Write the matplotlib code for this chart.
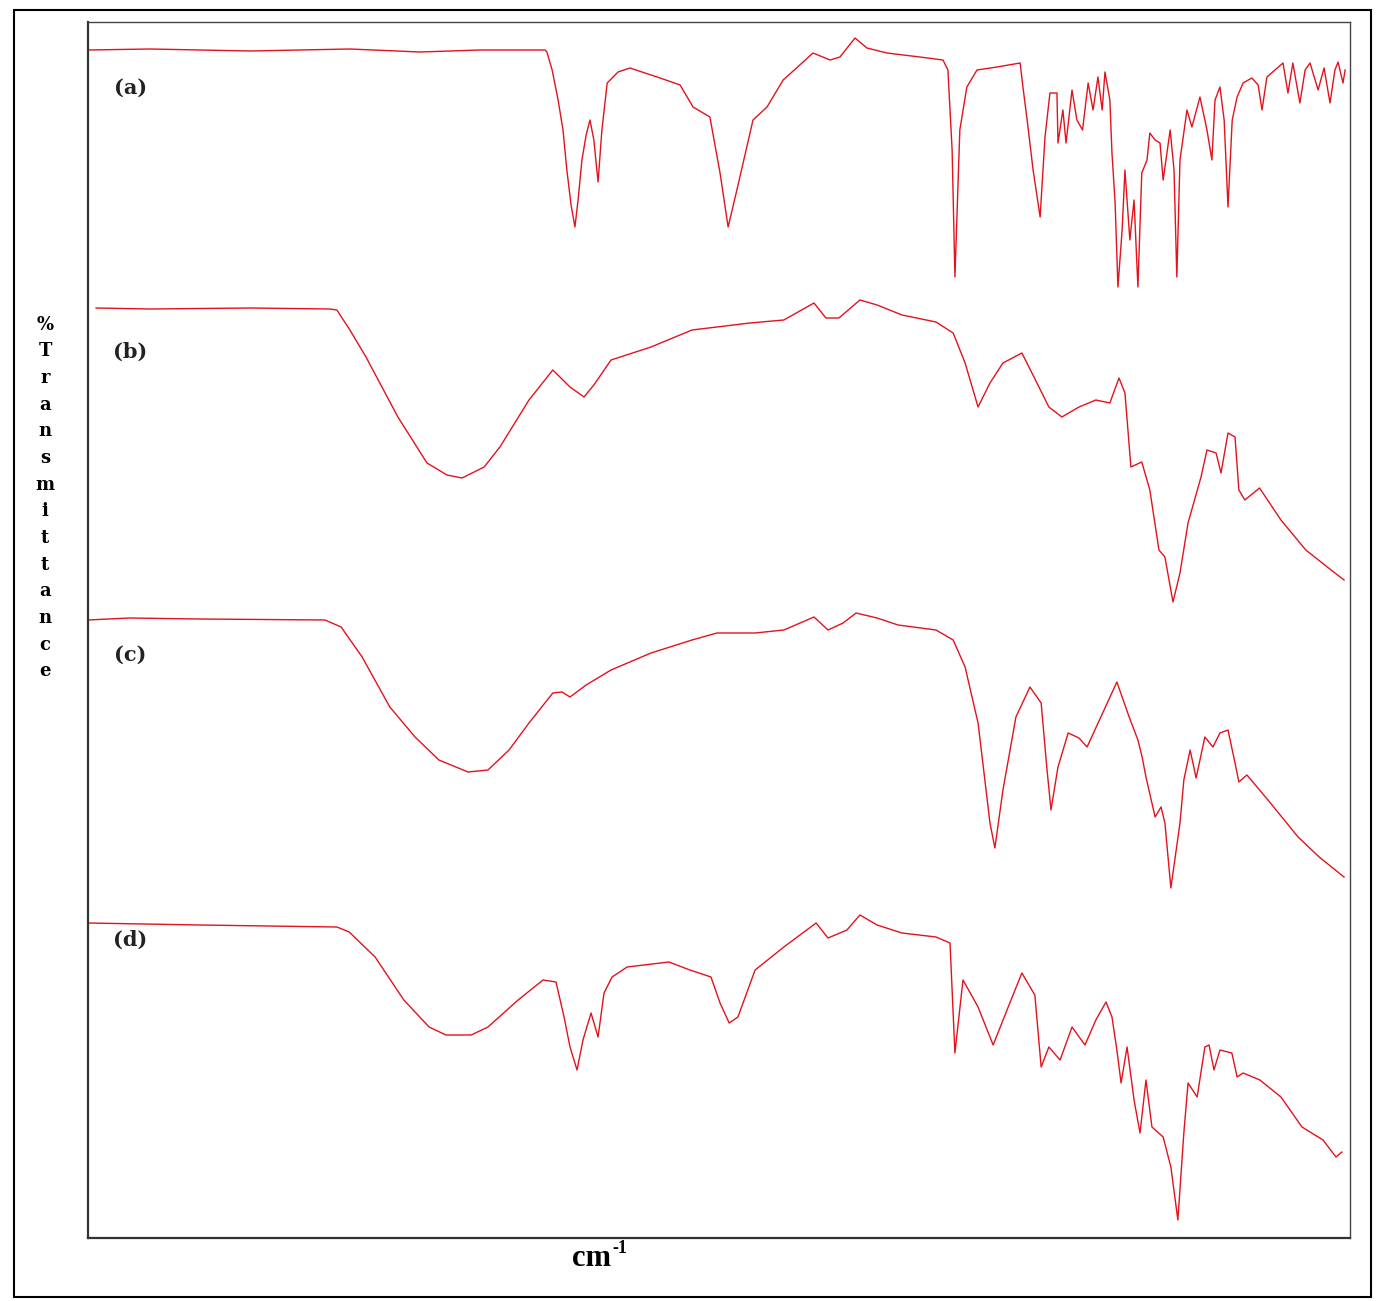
import matplotlib
matplotlib.use("Agg")
import matplotlib.pyplot as plt
from matplotlib.patches import Rectangle

# FTIR spectra, stacked (transmittance in arbitrary units, offsets included)
# wavenumbers in cm-1, plotted high -> low

wn_a = [4000, 3823, 3538, 3253, 3053, 2882, 2696, 2691, 2676, 2659, 2645, 2634, 2622, 2611,
        2602, 2591, 2579, 2568, 2557, 2545, 2534, 2519, 2488, 2454, 2368, 2311, 2274, 2226,
        2197, 2174, 2149, 2103, 2063, 2017, 1960, 1932, 1883, 1855, 1812, 1778, 1721, 1627,
        1561, 1547, 1535, 1527, 1513, 1493, 1464, 1407, 1341, 1333, 1321, 1304, 1284, 1270,
        1256, 1236, 1233, 1219, 1210, 1193, 1179, 1163, 1147, 1133, 1119, 1107, 1099, 1085,
        1079, 1070, 1062, 1050, 1042, 1028, 1016, 1005, 994, 979, 971, 956, 942, 933, 913,
        902, 894, 885, 865, 851, 828, 808, 794, 785, 771, 759, 748, 736, 722, 705, 680, 662,
        651, 637, 591, 577, 563, 543, 528, 514, 491, 474, 457, 443, 434, 420, 414]
t_a = [1188, 1189, 1187, 1189, 1186, 1188, 1188, 1186, 1168, 1138, 1108, 1068, 1033, 1011,
       1038, 1078, 1103, 1118, 1098, 1056, 1108, 1155, 1166, 1170, 1160, 1153, 1131, 1121,
       1065, 1011, 1048, 1118, 1131, 1158, 1176, 1185, 1178, 1181, 1200, 1190, 1185, 1181,
       1178, 1168, 1088, 961, 1108, 1151, 1168, 1171, 1175, 1151, 1118, 1068, 1021, 1101,
       1145, 1145, 1095, 1128, 1095, 1148, 1118, 1108, 1155, 1128, 1161, 1128, 1166, 1138,
       1085, 1035, 951, 1008, 1068, 998, 1038, 951, 1065, 1078, 1105, 1098, 1095, 1058, 1108,
       1068, 961, 1078, 1128, 1111, 1141, 1108, 1078, 1138, 1151, 1118, 1031, 1118, 1141, 1155, 1160, 1153,
       1128, 1161, 1175, 1145, 1175, 1135, 1168, 1175, 1148, 1170, 1135, 1168, 1176, 1155, 1168]

wn_b = [3977, 3823, 3538, 3310, 3290, 3253, 3207, 3116, 3033, 2976, 2933, 2870, 2825, 2742,
        2674, 2625, 2585, 2557, 2508, 2394, 2277, 2206, 2112, 2015, 1929, 1895, 1858, 1798,
        1749, 1678, 1581, 1532, 1498, 1461, 1427, 1390, 1336, 1293, 1259, 1222, 1173, 1125,
        1085, 1059, 1042, 1025, 994, 971, 945, 928, 905, 885, 862, 825, 808, 782, 768, 748,
        728, 717, 700, 658, 597, 526, 454, 417]
t_b = [930, 929, 930, 929, 928, 908, 881, 821, 775, 763, 760, 771, 791, 838,
       868, 851, 841, 853, 878, 891, 908, 911, 915, 918, 935, 920, 920, 938,
       933, 923, 916, 905, 875, 831, 855, 875, 885, 855, 831, 821, 831, 838,
       835, 860, 845, 771, 776, 748, 688, 681, 636, 665, 715, 761, 788, 785, 765, 805,
       801, 748, 738, 750, 718, 688, 668, 658]

wn_c = [4000, 3883, 3681, 3324, 3278, 3218, 3139, 3067, 2999, 2916, 2859, 2799, 2742, 2674,
        2648, 2625, 2579, 2508, 2394, 2277, 2206, 2097, 2015, 1929, 1889, 1846, 1809, 1749,
        1689, 1581, 1532, 1498, 1461, 1427, 1413, 1390, 1353, 1313, 1281, 1265, 1253, 1233,
        1204, 1173, 1150, 1065, 1030, 1005, 993, 982, 956, 939, 928, 911, 885, 874, 856, 839,
        814, 791, 771, 748, 728, 717, 694, 634, 548, 488, 417]
t_c = [618, 620, 619, 618, 611, 581, 531, 501, 478, 466, 468, 488, 515, 545,
       546, 541, 553, 568, 585, 598, 605, 605, 608, 621, 608, 615, 625, 620,
       613, 608, 598, 571, 515, 415, 390, 448, 521, 551, 535, 471, 428, 471,
       505, 500, 491, 556, 521, 498, 481, 461, 421, 431, 415, 350, 415, 458, 488, 460,
       501, 491, 505, 508, 475, 456, 463, 438, 401, 381, 361]

wn_d = [4000, 3681, 3290, 3255, 3181, 3099, 3027, 2979, 2907, 2859, 2773, 2702, 2665, 2642,
        2625, 2605, 2588, 2565, 2545, 2528, 2505, 2462, 2343, 2283, 2223, 2197, 2171, 2146,
        2097, 2015, 1923, 1889, 1835, 1798, 1749, 1678, 1581, 1541, 1527, 1504, 1461, 1418,
        1367, 1336, 1299, 1281, 1259, 1227, 1193, 1156, 1125, 1096, 1079, 1065, 1053, 1036,
        1016, 999, 982, 965, 933, 911, 891, 874, 862, 836, 814, 802, 788, 771, 737, 722, 705,
        657, 597, 537, 477, 440, 423]
t_d = [315, 313, 311, 306, 281, 238, 211, 203, 203, 211, 238, 258, 256, 221,
       191, 168, 198, 225, 201, 245, 261, 271, 276, 268, 261, 235, 215, 221,
       268, 291, 315, 300, 308, 323, 313, 305, 301, 295, 185, 258, 231, 193,
       238, 265, 243, 171, 191, 178, 211, 193, 218, 236, 221, 188, 155, 191,
       138, 105, 158, 111, 101, 71, 18, 105, 155, 141, 191, 193, 168, 188, 185, 161, 165,
       158, 141, 111, 98, 81, 86]

panel_labels = ["(a)", "(b)", "(c)", "(d)"]
label_pos = [1150, 886, 583, 298]   # vertical position of each panel label

fig = plt.figure(figsize=(13.83, 13.01), dpi=100)
fig.patch.set_facecolor("white")

# outer frame around the whole figure
fig.patches.append(Rectangle((14 / 1383, 1 - 1297 / 1301), 1357 / 1383, 1287 / 1301,
                             transform=fig.transFigure, fill=False, edgecolor="black",
                             linewidth=1.5))

ax = fig.add_axes([88 / 1383, 1 - 1238 / 1301, 1262 / 1383, 1216 / 1301])
red = "#e3121c"
for wn, t in [(wn_a, t_a), (wn_b, t_b), (wn_c, t_c), (wn_d, t_d)]:
    ax.plot(wn, t, color=red, linewidth=1.0)

ax.set_xlim(4000, 400)
ax.set_ylim(0, 1216)
ax.set_xticks([])
ax.set_yticks([])
for side in ["top", "right"]:
    ax.spines[side].set_linewidth(1.0)
    ax.spines[side].set_color("#444444")
for side in ["left", "bottom"]:
    ax.spines[side].set_linewidth(1.6)
    ax.spines[side].set_color("#333333")

for lab, yv in zip(panel_labels, label_pos):
    ax.text(3880, yv, lab, ha="center", va="center", fontsize=15,
            fontweight="bold", family="DejaVu Serif", color="#222222")

# y label written as stacked letters
ylab = "%\nT\nr\na\nn\ns\nm\ni\nt\nt\na\nn\nc\ne"
fig.text(45 / 1383, 1 - 498 / 1301, ylab, ha="center", va="center", multialignment="center",
         fontsize=13, fontweight="bold", family="DejaVu Serif", linespacing=1.62)

# x label: cm with a raised -1
fig.text(611 / 1383, 1 - 1266 / 1301, "cm", ha="right", va="baseline",
         fontsize=22, fontweight="bold", family="Liberation Serif")
fig.text(612 / 1383, 1 - 1253 / 1301, "-1", ha="left", va="baseline",
         fontsize=13, fontweight="bold", family="Liberation Serif")

fig.savefig("out.png", dpi=100)
